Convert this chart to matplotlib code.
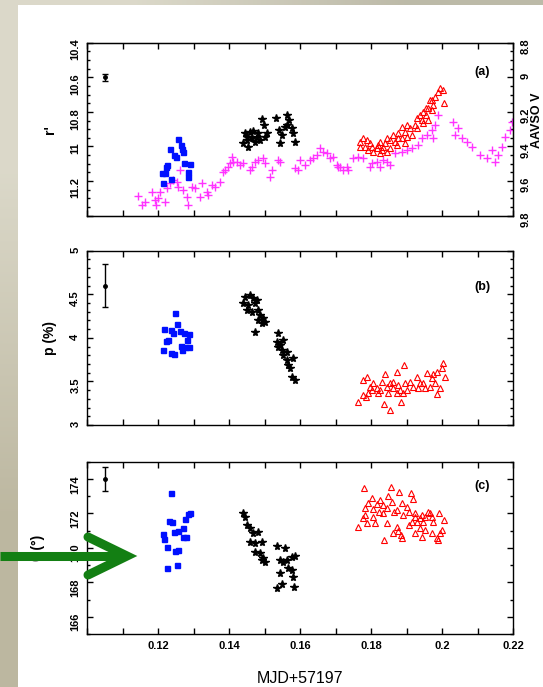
import numpy as np
import matplotlib
matplotlib.use('Agg')
import matplotlib.pyplot as plt
from matplotlib.ticker import MultipleLocator, FixedLocator, FuncFormatter
from matplotlib.patches import Rectangle

plt.rcParams['font.family'] = ['Liberation Sans', 'DejaVu Sans']

# ---------------- data ----------------
# panel (a): r' magnitudes (left axis) and AAVSO V (right axis)
blue_a_x = [0.1255, 0.1233, 0.1264, 0.1270, 0.1245, 0.1250, 0.1224, 0.1219, 0.1214,
            0.1273, 0.1289, 0.1283, 0.1285, 0.1236, 0.1267, 0.1222, 0.1211]
blue_a_y = [10.959, 11.017, 10.992, 11.030, 11.050, 11.063, 11.107, 11.155, 11.210,
            11.098, 11.103, 11.146, 11.175, 11.190, 11.017, 11.120, 11.155]

black_a_x = [0.1444, 0.1458, 0.1468, 0.1449, 0.1439, 0.1463, 0.1477, 0.1472, 0.1454,
             0.1482, 0.1487, 0.1449, 0.1491, 0.1498, 0.1505, 0.1501, 0.1532, 0.1563,
             0.1569, 0.1562, 0.1540, 0.1548, 0.1543, 0.1580, 0.1585, 0.1557, 0.1576]
black_a_y = [10.924, 10.915, 10.909, 10.963, 10.982, 10.953, 10.944, 10.973, 11.002,
             10.924, 10.963, 10.944, 10.843, 10.876, 10.924, 10.944, 10.837, 10.818,
             10.847, 10.876, 10.905, 10.934, 10.982, 10.924, 10.973, 10.886, 10.895]

red_a_x = [0.1994, 0.1989, 0.2003, 0.1979, 0.2005, 0.1965, 0.1975, 0.1961, 0.1970,
           0.1947, 0.1937, 0.1954, 0.1942, 0.1928, 0.1961, 0.1923, 0.1900, 0.1886,
           0.1909, 0.1895, 0.1876, 0.1862, 0.1914, 0.1886, 0.1853, 0.1867, 0.1839,
           0.1825, 0.1834, 0.1815, 0.1801, 0.1778, 0.1787, 0.1768, 0.1796, 0.1782,
           0.1806, 0.1825, 0.1843, 0.1853, 0.1820, 0.1872, 0.1895, 0.1928, 0.1947,
           0.1954, 0.1970, 0.1900, 0.1876, 0.1843, 0.1829, 0.1792, 0.1768]
red_a_y = [10.664, 10.683, 10.674, 10.712, 10.750, 10.731, 10.760, 10.779, 10.789,
           10.799, 10.818, 10.818, 10.847, 10.837, 10.847, 10.876, 10.876, 10.886,
           10.895, 10.915, 10.924, 10.934, 10.934, 10.953, 10.963, 10.973, 10.982,
           10.973, 11.002, 11.011, 11.002, 10.953, 10.963, 10.973, 10.982, 11.002,
           11.030, 11.040, 11.030, 11.011, 10.992, 10.992, 10.982, 10.895, 10.866,
           10.779, 10.731, 10.944, 10.953, 10.953, 11.021, 11.021, 11.002]

aavso_x = [0.1142, 0.1153, 0.1163, 0.1181, 0.1191, 0.1200, 0.1205, 0.1219, 0.1194,
           0.1224, 0.1233, 0.1242, 0.1252, 0.1256, 0.1261, 0.1270, 0.1280, 0.1285,
           0.1294, 0.1303, 0.1317, 0.1322, 0.1336, 0.1341, 0.1350, 0.1360, 0.1374,
           0.1383, 0.1397, 0.1407, 0.1411,
           0.1388, 0.1402, 0.1421, 0.1430, 0.1439, 0.1458, 0.1463, 0.1472, 0.1482,
           0.1496, 0.1501, 0.1515, 0.1519, 0.1538, 0.1543, 0.1585, 0.1594, 0.1599,
           0.1613, 0.1627, 0.1637, 0.1646, 0.1656, 0.1665, 0.1674, 0.1684, 0.1693,
           0.1703, 0.1712, 0.1721, 0.1731,
           0.1735, 0.1749, 0.1763, 0.1777, 0.1801, 0.1815, 0.1834, 0.1853, 0.1867,
           0.1886, 0.1900, 0.1914, 0.1932, 0.1942, 0.1956, 0.1970, 0.1979, 0.1989,
           0.1975, 0.2031, 0.2045, 0.2036, 0.2055, 0.2069, 0.2083, 0.2106, 0.2125,
           0.2139, 0.2148, 0.2158, 0.2167, 0.2177, 0.2191, 0.2196,
           0.1796, 0.1824, 0.1843, 0.1707]
aavso_y = [9.687, 9.739, 9.720, 9.662, 9.710, 9.700, 9.662, 9.720, 9.739,
           9.642, 9.613, 9.594, 9.604, 9.633, 9.536, 9.652, 9.691, 9.739,
           9.633, 9.642, 9.691, 9.610, 9.662, 9.681, 9.623, 9.633, 9.604,
           9.546, 9.517, 9.459, 9.488,
           9.536, 9.498, 9.488, 9.507, 9.498, 9.536, 9.517, 9.488, 9.478,
           9.469, 9.498, 9.575, 9.536, 9.478, 9.488, 9.526, 9.536, 9.478,
           9.507, 9.478, 9.469, 9.449, 9.411, 9.430, 9.440, 9.469, 9.459,
           9.507, 9.517, 9.536, 9.517,
           9.536, 9.469, 9.459, 9.469, 9.498, 9.488, 9.478, 9.507, 9.440,
           9.430, 9.421, 9.411, 9.392, 9.353, 9.334, 9.305, 9.276, 9.218,
           9.353, 9.257, 9.295, 9.334, 9.353, 9.373, 9.402, 9.450, 9.469,
           9.421, 9.488, 9.450, 9.402, 9.344, 9.305, 9.257,
           9.517, 9.517, 9.488, 9.517]

# panel (b): polarization degree p (%)
blue_b_x = [0.1247, 0.1216, 0.1252, 0.1236, 0.1242, 0.1261, 0.1272, 0.1287, 0.1228,
            0.1280, 0.1264, 0.1287, 0.1214, 0.1235, 0.1245, 0.1267, 0.1276, 0.1222]
blue_b_y = [4.282, 4.098, 4.155, 4.090, 4.052, 4.079, 4.059, 4.041, 3.975,
            3.975, 3.906, 3.898, 3.861, 3.830, 3.815, 3.861, 3.898, 3.967]

black_b_x = [0.1444, 0.1458, 0.1468, 0.1439, 0.1454, 0.1472, 0.1449, 0.1463, 0.1482,
             0.1486, 0.1496, 0.1482, 0.1501, 0.1491, 0.1477, 0.1472, 0.1538, 0.1534,
             0.1543, 0.1548, 0.1552, 0.1562, 0.1580, 0.1566, 0.1571, 0.1576, 0.1585,
             0.1552, 0.1538, 0.1562]
black_b_y = [4.472, 4.492, 4.454, 4.396, 4.377, 4.396, 4.320, 4.300, 4.320,
             4.262, 4.224, 4.205, 4.185, 4.167, 4.434, 4.071, 4.052, 3.956,
             3.918, 3.861, 3.803, 3.746, 3.765, 3.688, 3.651, 3.554, 3.516,
             3.975, 3.898, 3.841]

red_b_x = [0.1892, 0.1873, 0.1839, 0.1787, 0.1777, 0.1806, 0.1796, 0.1815, 0.1825,
           0.1792, 0.1785, 0.1763, 0.1836, 0.1853, 0.1883, 0.1862, 0.1876, 0.1895,
           0.1909, 0.1928, 0.1937, 0.1956, 0.1970, 0.1984, 0.1998, 0.2003, 0.2008,
           0.1994, 0.1986, 0.1946, 0.1918, 0.1900, 0.1881, 0.1862, 0.1853, 0.1843,
           0.1829, 0.1965, 0.1979, 0.1951, 0.1932, 0.1820, 0.1801, 0.1776, 0.1975,
           0.1890, 0.1872, 0.1848]
red_b_y = [3.688, 3.605, 3.582, 3.547, 3.516, 3.478, 3.439, 3.421, 3.402,
           3.364, 3.318, 3.267, 3.238, 3.172, 3.260, 3.497, 3.459, 3.478,
           3.497, 3.554, 3.485, 3.593, 3.536, 3.612, 3.651, 3.708, 3.554,
           3.421, 3.356, 3.478, 3.439, 3.402, 3.402, 3.421, 3.478, 3.439,
           3.497, 3.439, 3.478, 3.421, 3.421, 3.364, 3.402, 3.344, 3.585,
           3.364, 3.364, 3.364]

# panel (c): polarization angle theta (deg)
blue_c_x = [0.1235, 0.1289, 0.1285, 0.1275, 0.1231, 0.1238, 0.1269, 0.1256, 0.1245,
            0.1212, 0.1216, 0.1269, 0.1278, 0.1224, 0.1247, 0.1255, 0.1225, 0.1252]
blue_c_y = [173.20, 172.04, 171.95, 171.66, 171.58, 171.48, 171.13, 170.99, 170.94,
            170.80, 170.50, 170.65, 170.65, 170.07, 169.83, 169.88, 168.81, 169.00]

black_c_x = [0.1439, 0.1444, 0.1451, 0.1458, 0.1468, 0.1482, 0.1458, 0.1472, 0.1491,
             0.1472, 0.1486, 0.1496, 0.1501, 0.1491, 0.1534, 0.1557, 0.1543, 0.1552,
             0.1576, 0.1585, 0.1566, 0.1576, 0.1543, 0.1579, 0.1548, 0.1534, 0.1582,
             0.1562]
black_c_y = [172.01, 171.81, 171.33, 171.13, 170.84, 170.94, 170.36, 170.26, 170.36,
             169.78, 169.68, 169.39, 169.20, 169.29, 170.11, 169.97, 169.29, 169.20,
             169.49, 169.53, 168.81, 168.71, 168.52, 168.29, 167.90, 167.65, 167.71,
             169.29]

red_c_x = [0.1779, 0.1855, 0.1879, 0.1911, 0.1917, 0.1848, 0.1801, 0.1825, 0.1857,
           0.1886, 0.1792, 0.1815, 0.1834, 0.1782, 0.1806, 0.1845, 0.1873, 0.1901,
           0.1906, 0.1864, 0.1823, 0.1782, 0.1834, 0.1890, 0.1923, 0.1942, 0.1961,
           0.1965, 0.1970, 0.1992, 0.1923, 0.1937, 0.1951, 0.1914, 0.1928, 0.1946,
           0.1975, 0.2005, 0.1777, 0.1806, 0.1787, 0.1810, 0.1763, 0.1843, 0.1873,
           0.1876, 0.1862, 0.1883, 0.1886, 0.1837, 0.1923, 0.1937, 0.1951, 0.1942,
           0.1970, 0.1984, 0.1989, 0.1998, 0.1994, 0.1906]
red_c_y = [173.46, 173.51, 173.26, 173.17, 172.82, 173.01, 172.88, 172.78, 172.68,
           172.62, 172.59, 172.55, 172.49, 172.30, 172.24, 172.30, 172.20, 172.39,
           172.10, 172.10, 172.10, 171.91, 172.00, 171.91, 172.00, 171.91, 172.10,
           172.00, 171.81, 172.00, 171.81, 171.72, 171.81, 171.52, 171.52, 171.52,
           171.52, 171.62, 171.72, 171.81, 171.42, 171.42, 171.23, 171.46, 171.23,
           171.00, 170.84, 170.75, 170.55, 170.46, 170.84, 171.13, 171.04, 170.65,
           170.84, 170.55, 170.46, 171.04, 170.84, 171.33]

# representative error bars (x, y, yerr) per panel
err_x = 0.105
err_a = (10.6, 0.02)
err_b = (4.6, 0.25)
err_c = (174.0, 0.7)

panel_tags = ['(a)', '(b)', '(c)']
ylabels = ["r'", 'p (%)', 'θ (°)']
xlabel = 'MJD+57197'
right_label = 'AAVSO V'

# ---------------- figure ----------------
W, H = 543, 687
fig = plt.figure(figsize=(W / 100, H / 100), dpi=100)

# background: beige/grey gradient frame with white sheet
bg = fig.add_axes([0, 0, 1, 1], zorder=-10)
grad = np.array([[[0.86, 0.85, 0.79], [0.74, 0.73, 0.66]],
                 [[0.74, 0.72, 0.63], [0.70, 0.69, 0.60]]])
bg.imshow(grad, extent=[0, W, H, 0], interpolation='bilinear', aspect='auto')
bg.add_patch(Rectangle((18, 5), W - 18, H - 5, facecolor='white', edgecolor='none'))
bg.set_xlim(0, W)
bg.set_ylim(H, 0)
bg.axis('off')

L, Wd = 87.3 / W, 426.0 / W
def box(top, bottom):
    return [L, 1 - bottom / H, Wd, (bottom - top) / H]

ax_a = fig.add_axes(box(42.7, 215.6))
ax_b = fig.add_axes(box(250.7, 425.0))
ax_c = fig.add_axes(box(461.7, 634.0))

def xfmt(v, pos):
    r = int(round(v * 100))
    if r % 2 == 0 and r >= 12:
        return '%g' % (r / 100)
    return ''

def gfmt(v, pos):
    return '%g' % round(v, 3)

for ax in (ax_a, ax_b, ax_c):
    ax.set_xlim(0.10, 0.22)
    ax.xaxis.set_major_locator(MultipleLocator(0.01))
    ax.xaxis.set_major_formatter(FuncFormatter(xfmt))
    ax.tick_params(which='both', direction='in', top=True, right=True, width=1.0,
                   labelsize=8, pad=5)
    ax.tick_params(which='major', length=4)
    ax.tick_params(which='minor', length=2.3)
    ax.tick_params(axis='y', labelrotation=90)
    for s in ax.spines.values():
        s.set_linewidth(1.0)

ax_a.tick_params(labelbottom=False)
ax_b.tick_params(labelbottom=False)

star_ms = 5.8
sq_ms = 3.6
tri_ms = 4.6
plus_ms = 6.3

# ---- panel (a)
ax_a2 = ax_a.twinx()
ax_a2.set_position(ax_a.get_position())
ax_a.set_zorder(ax_a2.get_zorder() + 1)
ax_a.patch.set_visible(False)
ax_a.set_ylim(11.4, 10.4)
ax_a.yaxis.set_major_locator(FixedLocator([10.4, 10.6, 10.8, 11.0, 11.2, 11.4]))
ax_a.yaxis.set_major_formatter(FuncFormatter(lambda v, p: '' if v > 11.3 else '%g' % round(v, 2)))
ax_a.yaxis.set_minor_locator(MultipleLocator(0.05))
ax_a.tick_params(axis='y', right=False, which='both')
ax_a2.set_ylim(9.8, 8.8)
ax_a2.yaxis.set_major_locator(MultipleLocator(0.2))
ax_a2.yaxis.set_major_formatter(FuncFormatter(gfmt))
ax_a2.yaxis.set_minor_locator(MultipleLocator(0.05))
ax_a2.tick_params(which='both', direction='in', width=1.0, labelsize=8, pad=5)
ax_a2.tick_params(which='major', length=4)
ax_a2.tick_params(which='minor', length=2.3)
ax_a2.tick_params(axis='y', labelrotation=90)

ax_a2.plot(aavso_x, aavso_y, linestyle='none', marker='+', ms=plus_ms, mew=1.0, color='#ff33ff')
ax_a.plot(blue_a_x, blue_a_y, linestyle='none', marker='s', ms=sq_ms, color='#0010ff')
ax_a.plot(black_a_x, black_a_y, linestyle='none', marker='*', ms=star_ms, color='black')
ax_a.plot(red_a_x, red_a_y, linestyle='none', marker='^', ms=tri_ms, mfc='none', mec='#ff0000', mew=0.8)
ax_a.errorbar([err_x], [err_a[0]], yerr=err_a[1], fmt='o', ms=2.5, color='black',
              capsize=2.5, elinewidth=1.0)

# ---- panel (b)
ax_b.set_ylim(3, 5)
ax_b.yaxis.set_major_locator(MultipleLocator(0.5))
ax_b.yaxis.set_major_formatter(FuncFormatter(gfmt))
ax_b.yaxis.set_minor_locator(MultipleLocator(0.1))
ax_b.plot(blue_b_x, blue_b_y, linestyle='none', marker='s', ms=sq_ms, color='#0010ff')
ax_b.plot(black_b_x, black_b_y, linestyle='none', marker='*', ms=star_ms, color='black')
ax_b.plot(red_b_x, red_b_y, linestyle='none', marker='^', ms=tri_ms, mfc='none', mec='#ff0000', mew=0.8)
ax_b.errorbar([err_x], [err_b[0]], yerr=err_b[1], fmt='o', ms=2.5, color='black',
              capsize=2.5, elinewidth=1.0)

# ---- panel (c)
ax_c.set_ylim(165, 175)
ax_c.yaxis.set_major_locator(MultipleLocator(2))
ax_c.yaxis.set_major_formatter(FuncFormatter(gfmt))
ax_c.yaxis.set_minor_locator(MultipleLocator(1))
ax_c.plot(blue_c_x, blue_c_y, linestyle='none', marker='s', ms=sq_ms, color='#0010ff')
ax_c.plot(black_c_x, black_c_y, linestyle='none', marker='*', ms=star_ms, color='black')
ax_c.plot(red_c_x, red_c_y, linestyle='none', marker='^', ms=tri_ms, mfc='none', mec='#ff0000', mew=0.8)
ax_c.errorbar([err_x], [err_c[0]], yerr=err_c[1], fmt='o', ms=2.5, color='black',
              capsize=2.5, elinewidth=1.0)
ax_c.set_xlabel(xlabel, fontsize=11.5)
ax_c.xaxis.set_label_coords(0.5, -0.215)

for ax in (ax_a, ax_a2, ax_b, ax_c):
    for lab in ax.get_xticklabels() + ax.get_yticklabels():
        lab.set_fontweight('bold')

# y labels
ax_a.set_ylabel(ylabels[0], fontsize=10, fontweight='bold')
ax_a.yaxis.set_label_coords(-0.072, 0.5)
ax_b.set_ylabel(ylabels[1], fontsize=10, fontweight='bold')
ax_b.yaxis.set_label_coords(-0.072, 0.5)
ax_c.set_ylabel(ylabels[2], fontsize=10, fontweight='bold')
ax_c.yaxis.set_label_coords(-0.1, 0.5)

# right-hand axis title (near the image edge, as in the reference)
fig.text(536.5 / W, 1 - 120 / H, right_label, rotation=90, ha='center', va='center',
         fontsize=9, fontweight='bold')

# panel tags
for ax, tag, yy in zip((ax_a, ax_b, ax_c), panel_tags, (0.83, 0.79, 0.86)):
    ax.text(0.927, yy, tag, transform=ax.transAxes, ha='center', va='center',
            fontsize=9, fontweight='bold')

# green annotation arrow on top
ov = fig.add_axes([0, 0, 1, 1], zorder=20)
ov.set_xlim(0, W)
ov.set_ylim(H, 0)
ov.axis('off')
ov.patch.set_visible(False)
green = '#137f13'
ov.plot([0, 120], [556, 556], color=green, lw=6.5, solid_capstyle='butt')
ov.plot([88, 127, 88], [537, 556, 575], color=green, lw=6.5,
        solid_capstyle='round', solid_joinstyle='miter')

fig.savefig('out.png', dpi=100)
